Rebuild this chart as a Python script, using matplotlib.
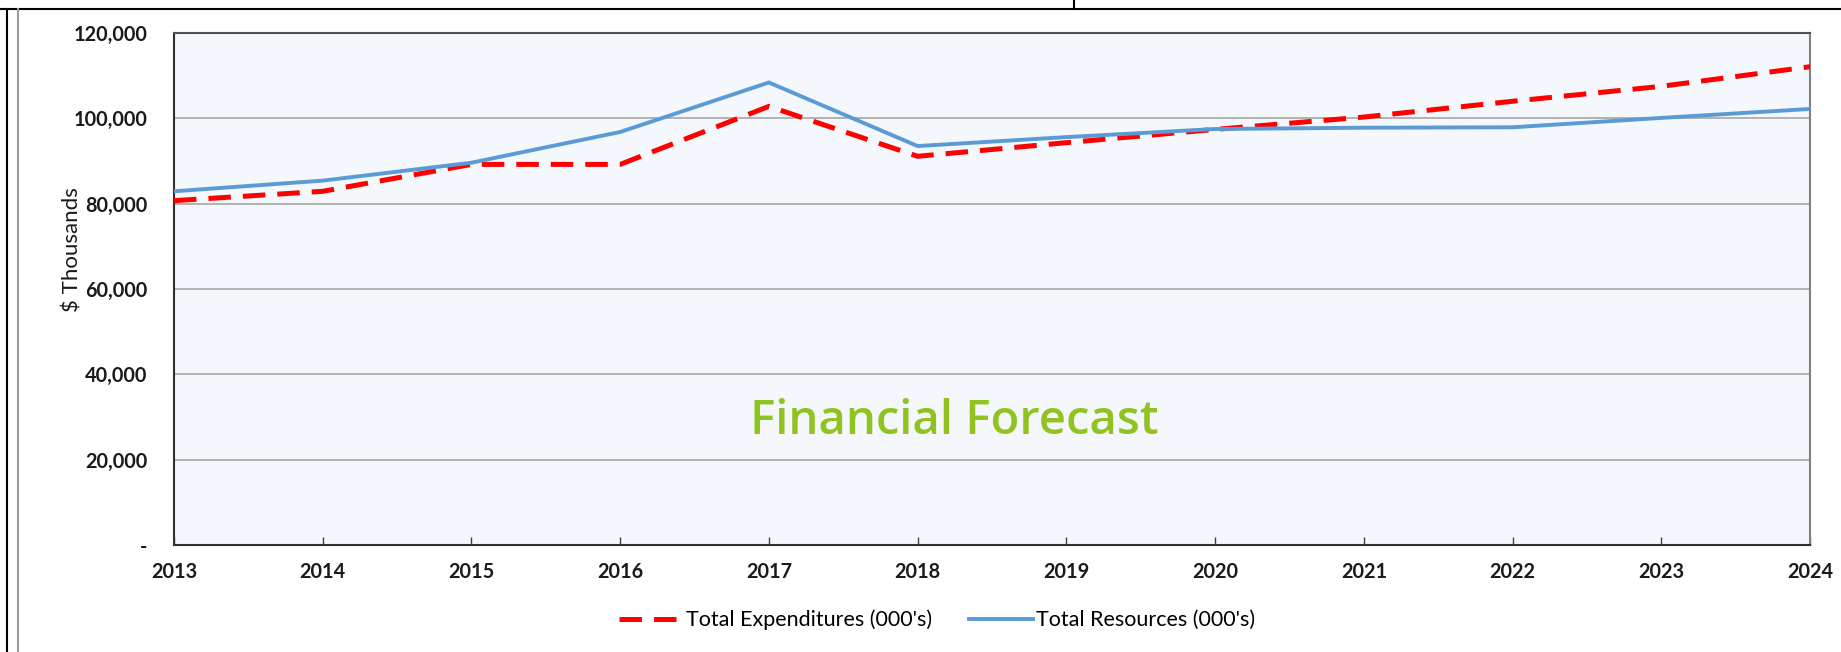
import matplotlib
matplotlib.use("Agg")
import matplotlib.pyplot as plt
from matplotlib.lines import Line2D
from matplotlib.ticker import FuncFormatter

years = [2013, 2014, 2015, 2016, 2017, 2018, 2019, 2020, 2021, 2022, 2023, 2024]
expenditures = [80700, 82900, 89200, 89200, 102800, 91100, 94300, 97400, 100300, 104000, 107500, 112100]
resources = [82900, 85400, 89600, 96800, 108400, 93500, 95600, 97500, 97800, 97900, 100100, 102200]
y_ticks = [0, 20000, 40000, 60000, 80000, 100000, 120000]

W, H = 1841, 652
fig = plt.figure(figsize=(W / 100, H / 100), dpi=100)
fig.patch.set_facecolor("white")

# plot area in pixel coords of the reference
left, right, top, bottom = 174, 1810, 33, 545
ax = fig.add_axes([left / W, 1 - bottom / H, (right - left) / W, (bottom - top) / H])
ax.set_facecolor("#f4f7fb")

ax.plot(years, expenditures, color="#ff0000", lw=3.6, linestyle=(0, (4.5, 2.4)),
        label="Total Expenditures (000's)", zorder=3)
ax.plot(years, resources, color="#5b9bd5", lw=2.8, label="Total Resources (000's)", zorder=3)

ax.set_xlim(2013, 2024)
ax.set_ylim(0, 120000)
ax.set_xticks(years)
ax.set_yticks(y_ticks)
ax.yaxis.set_major_formatter(FuncFormatter(lambda v, p: "-" if v == 0 else f"{int(v):,}"))
ax.grid(axis="y", color="#a6a6a6", lw=1.2, zorder=1)
ax.set_axisbelow(True)

for lab in ax.get_xticklabels() + ax.get_yticklabels():
    lab.set_fontfamily("Lato")
    lab.set_fontsize(14.3)
    lab.set_fontweight("bold")
    lab.set_color("#1a1a1a")
ax.tick_params(axis="x", direction="in", length=6, width=1, color="#404040", pad=12)
ax.tick_params(axis="y", length=0, pad=19)

ax.spines["left"].set_color("#303030")
ax.spines["bottom"].set_color("#303030")
ax.spines["top"].set_color("#505050")
ax.spines["right"].set_color("#808080")
for s in ax.spines.values():
    s.set_linewidth(1.5)

ax.set_ylabel("$ Thousands", family="Lato", fontsize=16, color="#1a1a1a")
ax.yaxis.set_label_coords(-0.056, 0.578)

fig.text(954 / W, 1 - 422 / H, "Financial Forecast", family="Open Sans", weight="semibold",
         fontsize=34, color="#8fc31f", ha="center", va="center")

fig.legend(loc="center", bbox_to_anchor=(937 / W, 1 - 620 / H), ncol=2, frameon=False,
           prop=dict(family="Lato", size=15.5), handlelength=3.0, handletextpad=0.1,
           columnspacing=1.7)

# frame lines around the figure
def px_line(x0, y0, x1, y1, color="black", lw=1.5):
    fig.add_artist(Line2D([x0 / W, x1 / W], [1 - y0 / H, 1 - y1 / H], color=color, lw=lw,
                          transform=fig.transFigure))

px_line(0, 9, W, 9)
px_line(7, 9, 7, H)
px_line(18, 9, 18, H, color="#9a9a9a", lw=1.5)
px_line(1074, 0, 1074, 9)

fig.savefig("out.png", dpi=100)
